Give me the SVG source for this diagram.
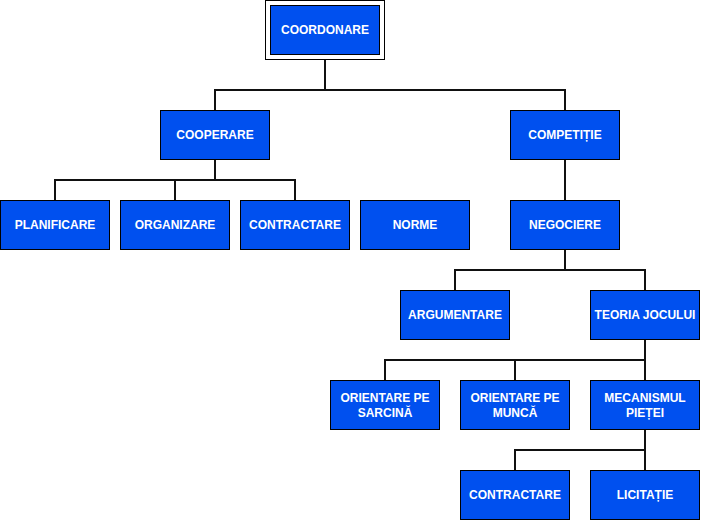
<svg xmlns="http://www.w3.org/2000/svg" width="701" height="521" viewBox="0 0 701 521">
<style>
.n rect{fill:#0050EF;stroke:#000;stroke-width:1}
.n text{fill:#fff;font-family:"Liberation Sans",Arial,sans-serif;font-weight:bold;font-size:12px;text-anchor:middle}
.c path{fill:none;stroke:#111;stroke-width:2}
</style>
<rect width="701" height="521" fill="#fff"/>
<g class="c">
<path d="M325 60V90H215V110M325 90H565V110"/>
<path d="M215 160V180H55V200M215 180H175V200M215 180H295V200"/>
<path d="M565 160V200"/>
<path d="M565 250V270H455V290M565 270H645V290"/>
<path d="M645 340V360H385V380M645 360H515V380M645 360V380"/>
<path d="M645 430V450H515V470M645 450V470"/>
</g>
<g class="n" id="coordonare"><rect x="265.5" y="0.5" width="119" height="59" fill="#fff" style="fill:#fff"/><rect x="270.5" y="5.5" width="109" height="49"/><text x="325" y="34">COORDONARE</text></g>
<g class="n" id="cooperare"><rect x="160.5" y="110.5" width="109" height="49"/><text x="215" y="139">COOPERARE</text></g>
<g class="n" id="competitie"><rect x="510.5" y="110.5" width="109" height="49"/><text x="565" y="139">COMPETIȚIE</text></g>
<g class="n" id="planificare"><rect x="0.5" y="200.5" width="109" height="49"/><text x="55" y="229">PLANIFICARE</text></g>
<g class="n" id="organizare"><rect x="120.5" y="200.5" width="109" height="49"/><text x="175" y="229">ORGANIZARE</text></g>
<g class="n" id="contractare1"><rect x="240.5" y="200.5" width="109" height="49"/><text x="295" y="229">CONTRACTARE</text></g>
<g class="n" id="norme"><rect x="360.5" y="200.5" width="109" height="49"/><text x="415" y="229">NORME</text></g>
<g class="n" id="negociere"><rect x="510.5" y="200.5" width="109" height="49"/><text x="565" y="229">NEGOCIERE</text></g>
<g class="n" id="argumentare"><rect x="400.5" y="290.5" width="109" height="49"/><text x="455" y="319">ARGUMENTARE</text></g>
<g class="n" id="teoria"><rect x="590.5" y="290.5" width="109" height="49"/><text x="645" y="319">TEORIA JOCULUI</text></g>
<g class="n" id="sarcina"><rect x="330.5" y="380.5" width="109" height="49"/><text x="385" y="402">ORIENTARE PE</text><text x="385" y="417">SARCINĂ</text></g>
<g class="n" id="munca"><rect x="460.5" y="380.5" width="109" height="49"/><text x="515" y="402">ORIENTARE PE</text><text x="515" y="417">MUNCĂ</text></g>
<g class="n" id="mecanismul"><rect x="590.5" y="380.5" width="109" height="49"/><text x="645" y="402">MECANISMUL</text><text x="645" y="417">PIEȚEI</text></g>
<g class="n" id="contractare2"><rect x="460.5" y="470.5" width="109" height="49"/><text x="515" y="499">CONTRACTARE</text></g>
<g class="n" id="licitatie"><rect x="590.5" y="470.5" width="109" height="49"/><text x="645" y="499">LICITAȚIE</text></g>
</svg>
